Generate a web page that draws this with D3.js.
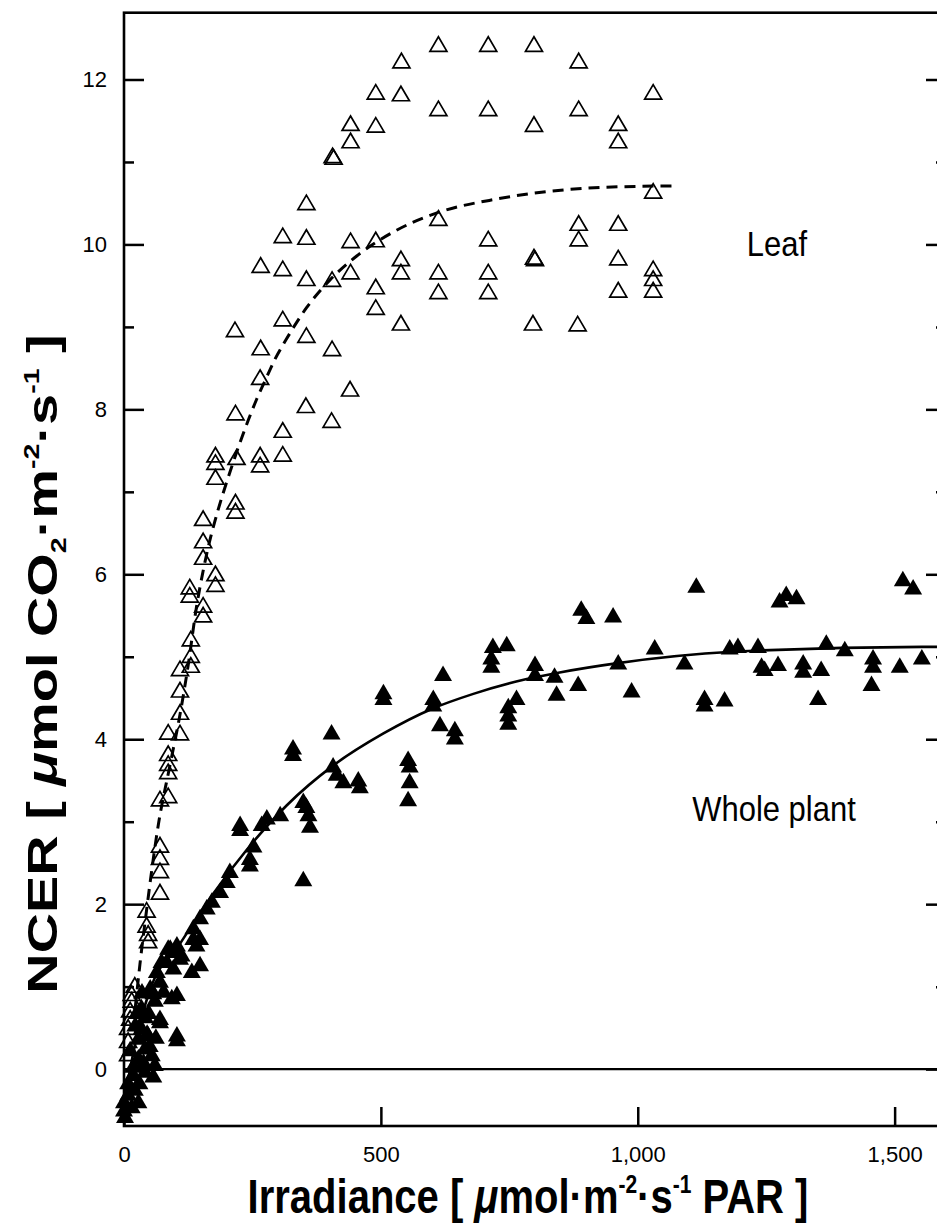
<!DOCTYPE html>
<html>
<head>
<meta charset="utf-8">
<script src="https://cdn.jsdelivr.net/npm/d3@7"></script>
<style>
  body { margin: 0; background: #fff; }
  text { font-family: "Liberation Sans", Arial, Helvetica, sans-serif; fill: #000; }
</style>
</head>
<body>
<div id="chart"></div>
<script>
// tick values
const xTicks = [0, 500, 1000, 1500]
const xTickLabels = ['0', '500', '1,000', '1,500']
const yTicks = [0, 2, 4, 6, 8, 10, 12]
const yMinorTicks = [1, 3, 5, 7, 9, 11]

// leaf (open triangles): [irradiance, NCER]
const leafObs = [
    [612, 12.43], [709, 12.43], [798, 12.43], [540, 12.23], [885, 12.23],
    [490, 11.85], [539, 11.83], [1030, 11.85],
    [612, 11.65], [709, 11.65], [885, 11.65],
    [441, 11.47], [490, 11.45], [798, 11.46], [962, 11.47], [962, 11.26], [441, 11.26],
    [406, 11.08], [408, 11.06], [355, 10.51],
    [309, 10.11], [355, 10.09], [441, 10.05], [490, 10.06], [612, 10.32], [709, 10.07],
    [1030, 10.65], [885, 10.26], [962, 10.26], [885, 10.07],
    [266, 9.75], [309, 9.71], [355, 9.59], [405, 9.58], [441, 9.67], [539, 9.83], [539, 9.67],
    [612, 9.67], [709, 9.67], [798, 9.85], [800, 9.83], [962, 9.84], [1030, 9.71], [1030, 9.59],
    [1030, 9.45], [962, 9.45],
    [490, 9.49], [612, 9.43], [709, 9.43], [490, 9.24], [539, 9.05], [796, 9.05], [883, 9.04],
    [309, 9.10], [216, 8.97], [355, 8.90], [266, 8.75], [405, 8.74],
    [265, 8.39], [440, 8.25], [354, 8.05], [217, 7.96], [404, 7.87], [309, 7.75],
    [178, 7.45], [178, 7.36], [219, 7.42], [265, 7.45], [265, 7.33], [309, 7.46], [178, 7.18],
    [217, 6.88], [217, 6.77], [154, 6.68], [154, 6.41], [154, 6.21], [178, 6.01], [178, 5.88],
    [128, 5.85], [128, 5.75], [154, 5.63], [154, 5.51],
    [130, 5.22], [130, 5.02], [109, 4.86], [130, 4.90], [109, 4.60], [109, 4.33],
    [86, 4.09], [109, 4.08], [86, 3.83], [86, 3.71], [86, 3.61], [70, 3.28], [86, 3.32],
    [70, 2.72], [70, 2.57], [70, 2.41], [70, 2.15], [44, 1.93], [44, 1.75], [47, 1.65], [47, 1.56],
    [21, 1.02], [15, 0.92], [15, 0.84], [12, 0.72], [12, 0.62], [8, 0.51], [8, 0.35], [8, 0.19]
]

// whole plant (filled triangles): [irradiance, NCER]
const plantObs = [
    [1114, 5.87], [1289, 5.77], [1276, 5.69], [1309, 5.73], [1516, 5.95], [1536, 5.85],
    [890, 5.59], [900, 5.49], [952, 5.51],
    [718, 5.14], [745, 5.16], [715, 5.00], [715, 4.90], [621, 4.80],
    [602, 4.51], [602, 4.43], [615, 4.19], [644, 4.13], [644, 4.03],
    [553, 3.77], [556, 3.69], [556, 3.50], [553, 3.28],
    [764, 4.51], [748, 4.41], [748, 4.31], [748, 4.21],
    [800, 4.92], [800, 4.80], [838, 4.78], [842, 4.56], [884, 4.68],
    [962, 4.94], [988, 4.60], [1033, 5.12], [1091, 4.94],
    [1130, 4.51], [1130, 4.43], [1169, 4.49],
    [1179, 5.12], [1195, 5.14], [1234, 5.14],
    [1241, 4.90], [1247, 4.86], [1273, 4.92],
    [1322, 4.94], [1322, 4.84], [1357, 4.86], [1351, 4.51],
    [1367, 5.18], [1403, 5.10],
    [1458, 5.00], [1458, 4.90], [1455, 4.68], [1510, 4.90], [1553, 5.00],
    [505, 4.58], [505, 4.51],
    [404, 4.09], [329, 3.91], [329, 3.83],
    [407, 3.69], [414, 3.59], [427, 3.50], [456, 3.52], [459, 3.44],
    [349, 3.26], [355, 3.20], [359, 3.10], [362, 2.96], [349, 2.31],
    [226, 2.98], [226, 2.92], [278, 3.06], [304, 3.10], [268, 2.98],
    [252, 2.72], [245, 2.57], [245, 2.49],
    [206, 2.41], [200, 2.29], [187, 2.17], [171, 2.05], [161, 1.97], [148, 1.85],
    [135, 1.73], [148, 1.60], [135, 1.60], [141, 1.52],
    [90, 1.48], [103, 1.52], [83, 1.32], [109, 1.36], [96, 1.24], [148, 1.28], [132, 1.20],
    [86, 1.48], [99, 1.44], [73, 1.32], [112, 1.40],
    [70, 1.08], [51, 1.00], [77, 0.96], [103, 0.92], [57, 0.94], [93, 0.88],
    [70, 0.63], [103, 0.43], [103, 0.37],
    [34, 0.76], [41, 0.65], [70, 0.59], [34, 0.51], [47, 0.43], [28, 0.39], [41, 0.27],
    [54, 0.19], [28, 0.15], [60, 0.07], [57, -0.07], [41, -0.01],
    [8, -0.15], [21, -0.23], [8, -0.29], [28, -0.38], [0, -0.38], [0, -0.48], [2, -0.56], [15, -0.44],
    [18, 0.05], [12, 0.25], [22, 0.55], [35, 0.95], [48, 0.7], [60, 0.85], [62, 0.4],
    [30, -0.15], [45, 0.45], [18, -0.05], [38, 0.1], [50, 0.3], [25, 0.7], [64, 1.2]
]

// fitted curves
const leafFit = [
    [22, 0.75], [31, 1.27], [44, 1.93], [67, 2.97], [90, 3.7], [109, 4.3], [125, 4.9],
    [141, 5.6], [154, 6.04], [164, 6.33], [184, 6.8], [200, 7.12], [226, 7.6], [242, 7.87],
    [258, 8.12], [274, 8.34], [294, 8.61], [315, 8.84], [355, 9.23], [401, 9.57], [453, 9.86],
    [524, 10.15], [608, 10.38], [725, 10.55], [796, 10.62], [926, 10.69], [1069, 10.71]
]
const plantFit = [
    [3, -0.3], [25, 0.4], [50, 0.95], [109, 1.52], [174, 2.13], [239, 2.66], [317, 3.2],
    [407, 3.68], [505, 4.07], [600, 4.37], [680, 4.55], [784, 4.73], [848, 4.81], [958, 4.92],
    [1185, 5.06], [1554, 5.12], [1600, 5.12]
]

const width = 937
const height = 1225
const frame = { left: 124, top: 12.7, right: 946, bottom: 1126 }

const svg = d3.select('#chart')
    .append('svg')
    .attr('width', width)
    .attr('height', height)

const xScale = d3.scaleLinear()
    .domain([0, 1600])
    .range([frame.left, frame.right])
const yScale = d3.scaleLinear()
    .domain([-0.69, 12.81])
    .range([frame.bottom, frame.top])

// zero line
svg.append('line')
    .attr('x1', xScale(0))
    .attr('x2', xScale(1600))
    .attr('y1', yScale(0))
    .attr('y2', yScale(0))
    .attr('stroke', '#000')
    .attr('stroke-width', 2.2)

// fitted lines
const line = d3.line()
    .x(d => xScale(d[0]))
    .y(d => yScale(d[1]))
    .curve(d3.curveMonotoneX)

svg.append('path')
    .datum(leafFit)
    .attr('d', line)
    .attr('fill', 'none')
    .attr('stroke', '#000')
    .attr('stroke-width', 3)
    .attr('stroke-dasharray', '11, 7')

svg.append('path')
    .datum(plantFit)
    .attr('d', line)
    .attr('fill', 'none')
    .attr('stroke', '#000')
    .attr('stroke-width', 2.6)

// triangle markers centred on their box
function triangle(w, h) {
    return 'M0,' + (-h / 2) + 'L' + (w / 2) + ',' + (h / 2) + 'L' + (-w / 2) + ',' + (h / 2) + 'Z'
}

svg.append('g')
    .selectAll('path')
    .data(plantObs)
    .join('path')
    .attr('d', triangle(18, 15.5))
    .attr('transform', d => 'translate(' + xScale(d[0]) + ',' + yScale(d[1]) + ')')
    .attr('fill', '#000')

svg.append('g')
    .selectAll('path')
    .data(leafObs)
    .join('path')
    .attr('d', triangle(17, 14.5))
    .attr('transform', d => 'translate(' + xScale(d[0]) + ',' + yScale(d[1]) + ')')
    .attr('fill', 'none')
    .attr('stroke', '#000')
    .attr('stroke-width', 1.7)

// axes (ticks point inward)
function styleAxis(g) {
    g.select('.domain').remove()
    g.selectAll('line').attr('stroke', '#000').attr('stroke-width', 2.5)
    g.selectAll('text')
        .attr('font-size', 22)
        .attr('font-family', '"Liberation Sans", Arial, sans-serif')
}

svg.append('g')
    .attr('transform', 'translate(' + frame.left + ',0)')
    .call(d3.axisLeft(yScale).tickValues(yTicks).tickSizeInner(-20).tickSizeOuter(0).tickPadding(17))
    .call(styleAxis)
svg.append('g')
    .attr('transform', 'translate(' + frame.left + ',0)')
    .call(d3.axisLeft(yScale).tickValues(yMinorTicks).tickSizeInner(-10).tickSizeOuter(0).tickFormat(''))
    .call(styleAxis)
svg.append('g')
    .attr('transform', 'translate(' + frame.right + ',0)')
    .call(d3.axisRight(yScale).tickValues(yTicks).tickSizeInner(-20).tickSizeOuter(0).tickFormat(''))
    .call(styleAxis)
svg.append('g')
    .attr('transform', 'translate(' + frame.right + ',0)')
    .call(d3.axisRight(yScale).tickValues(yMinorTicks).tickSizeInner(-10).tickSizeOuter(0).tickFormat(''))
    .call(styleAxis)
svg.append('g')
    .attr('transform', 'translate(0,' + frame.bottom + ')')
    .call(d3.axisBottom(xScale).tickValues(xTicks).tickSizeInner(-19).tickSizeOuter(0).tickPadding(20)
        .tickFormat((d, i) => xTickLabels[i]))
    .call(styleAxis)

// frame
svg.append('rect')
    .attr('x', frame.left)
    .attr('y', frame.top)
    .attr('width', frame.right - frame.left)
    .attr('height', frame.bottom - frame.top)
    .attr('fill', 'none')
    .attr('stroke', '#000')
    .attr('stroke-width', 2.6)

// series labels (the scan is a little stretched vertically)
svg.append('text')
    .attr('transform', 'translate(777,256) scale(1,1.12)')
    .attr('text-anchor', 'middle')
    .attr('font-size', 31)
    .text('Leaf')
svg.append('text')
    .attr('transform', 'translate(774,821) scale(1,1.12)')
    .attr('text-anchor', 'middle')
    .attr('font-size', 31)
    .text('Whole plant')

// axis titles
const xTitle = svg.append('text')
    .attr('transform', 'translate(528,1213) scale(1,1.2)')
    .attr('text-anchor', 'middle')
    .attr('font-size', 40)
    .attr('font-weight', 'bold')
xTitle.append('tspan').text('Irradiance [ ')
xTitle.append('tspan').attr('font-style', 'italic').text('\u03bc')
xTitle.append('tspan').text('mol\u00b7m')
xTitle.append('tspan').attr('font-size', 21).attr('dy', -17).text('-2')
xTitle.append('tspan').attr('dy', 17).text('\u00b7s')
xTitle.append('tspan').attr('font-size', 21).attr('dy', -17).text('-1')
xTitle.append('tspan').attr('dy', 17).text(' PAR ]')

const yTitle = svg.append('text')
    .attr('transform', 'translate(57,664) rotate(-90) scale(1.3,1)')
    .attr('text-anchor', 'middle')
    .attr('font-size', 43)
    .attr('font-weight', 'bold')
yTitle.append('tspan').text('NCER [ ')
yTitle.append('tspan').attr('font-style', 'italic').text('\u03bc')
yTitle.append('tspan').text('mol CO')
yTitle.append('tspan').attr('font-size', 22).attr('dy', 9).text('2')
yTitle.append('tspan').attr('dy', -9).text('\u00b7m')
yTitle.append('tspan').attr('font-size', 22).attr('dy', -18).text('-2')
yTitle.append('tspan').attr('dy', 18).text('\u00b7s')
yTitle.append('tspan').attr('font-size', 22).attr('dy', -18).text('-1')
yTitle.append('tspan').attr('dy', 18).text(' ]')
</script>
</body>
</html>
